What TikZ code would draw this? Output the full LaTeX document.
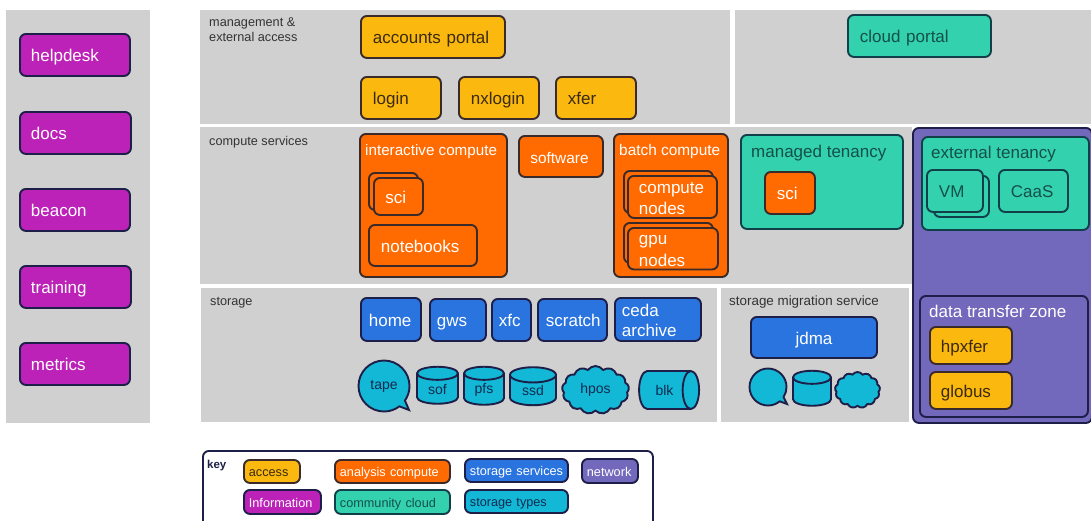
\documentclass[tikz,border=0pt]{standalone}
\usepackage{fontspec}
\setmainfont{Liberation Sans}
\usetikzlibrary{shapes.geometric,shapes.symbols,shapes.callouts}

\definecolor{panelgrey}{HTML}{D0D0D0}
\definecolor{infofill}{HTML}{BC22B8}
\definecolor{accessfill}{HTML}{FBB80F}
\definecolor{computefill}{HTML}{FF6B00}
\definecolor{servicefill}{HTML}{2A74E0}
\definecolor{typefill}{HTML}{12B8D6}
\definecolor{cloudfill}{HTML}{33D1AE}
\definecolor{netfill}{HTML}{7269BC}
\definecolor{edgenavy}{HTML}{1E1F48}
\definecolor{edgebrown}{HTML}{3A2A2A}
\definecolor{edgeteal}{HTML}{12404A}
\definecolor{inkbrown}{HTML}{3A2A10}
\definecolor{inkteal}{HTML}{14504A}
\definecolor{inknavy}{HTML}{102A50}
\definecolor{inkgrey}{HTML}{333333}

\def\tilepad{10}
\def\tilestrut{\leavevmode\vrule height .85\baselineskip depth .15\baselineskip width 0pt\relax}
\tikzset{
  pad/.code={\def\tilepad{#1}},
  tile/.style 2 args={rectangle, rounded corners=6pt, draw, line width=1.9pt, anchor=north west,
    minimum width=#1-1, minimum height=#2-1, text width=#1-2*\tilepad-2.9,
    inner xsep=\tilepad*1pt, inner ysep=0pt, align=left,
    font=\fontsize{17}{20}\selectfont,
    execute at begin node=\tilestrut, execute at end node=\tilestrut},
  panel/.style 2 args={rectangle, fill=panelgrey, anchor=north west, inner sep=0pt, outer sep=0pt,
    minimum width=#1, minimum height=#2},
  tag/.style={anchor=base west, inner sep=0pt, align=left, text=inkgrey, font=\fontsize{12.7}{15}\selectfont},
  head/.style={anchor=base west, inner sep=0pt, font=\fontsize{17}{20}\selectfont},
  keytext/.style={font=\fontsize{12.7}{15}\selectfont, pad=4},
  info/.style={fill=infofill, draw=edgenavy, text=white},
  access/.style={fill=accessfill, draw=edgebrown, text=inkbrown},
  compute/.style={fill=computefill, draw=edgebrown, text=white},
  service/.style={fill=servicefill, draw=edgenavy, text=white},
  storetype/.style={fill=typefill, draw=edgenavy, text=inknavy},
  community/.style={fill=cloudfill, draw=edgeteal, text=inkteal},
  network/.style={fill=netfill, draw=edgenavy, text=white},
  typebase/.style={storetype, line width=1.9pt, inner sep=0pt, font=\fontsize{14}{16}\selectfont},
  drum/.style 2 args={typebase, cylinder, shape border rotate=90, aspect=0.7, cylinder uses custom fill,
    cylinder body fill=typefill, cylinder end fill=typefill, minimum width=#1, minimum height=#2},
  puff/.style 2 args={typebase, cloud, cloud puffs=13, cloud puff arc=110, aspect=1.4, minimum width=#1, minimum height=#2},
  bubble/.style={typebase, ellipse callout, callout pointer arc=18, minimum size=#1}
}

\begin{document}
\begin{tikzpicture}[x=1pt, y=-1pt]
  \useasboundingbox (0,0) rectangle (1091,520);

  % Grey panels
  \node[panel={144}{413}] (sidepanel) at (6,10) {};
  \node[panel={530}{114}] (mgmtpanel) at (200,10) {};
  \node[panel={356}{114}] (portalpanel) at (735,10) {};
  \node[panel={712}{157}] (computepanel) at (200,127) {};
  \node[panel={516}{134}] (storagepanel) at (201,288) {};
  \node[panel={188}{134}] (migratepanel) at (721,288) {};

  % Panel titles
  \node[tag] (mgmttag) at (209,41) {management \&\\external access};
  \node[tag] (computetag) at (209,145.5) {compute services};
  \node[tag] (storagetag) at (210,305) {storage};
  \node[tag, font=\fontsize{13.4}{15}\selectfont] (migratetag) at (729,305) {storage migration service};

  % Information column
  \foreach \name/\ypos/\wide in {helpdesk/33/111, docs/111/112, beacon/188/111, training/265/112, metrics/342/111}
    \node[tile={\wide}{43}, info] (\name) at (19,\ypos) {\name};

  % Access row
  \node[tile={145}{43}, access, pad=11] (accounts) at (360,15) {accounts portal};
  \node[tile={81}{43}, access, pad=11] (login) at (360,76) {login};
  \node[tile={81}{43}, access, pad=11] (nxlogin) at (458,76) {nxlogin};
  \node[tile={81}{43}, access, pad=11] (xfer) at (555,76) {xfer};
  \node[tile={144}{43}, community, pad=11] (cloudportal) at (847,14) {cloud portal};

  % Compute services
  \node[tile={148}{144}, compute] (interactive) at (359,133) {};
  \node[head, text=white, font=\fontsize{15.2}{20}\selectfont] (interactivetag) at (365,155) {interactive compute};
  \node[tile={50}{38}, compute] (sciback) at (368,172) {};
  \node[tile={50}{38}, compute, pad=10.5] (scifront) at (373,177) {sci};
  \node[tile={109}{42}, compute, pad=11] (notebooks) at (368,224) {notebooks};
  \node[tile={85}{42}, compute, font=\fontsize{15.4}{20}\selectfont, pad=10.5] (software) at (518,135) {software};
  \node[tile={115}{144}, compute] (batch) at (613,133) {};
  \node[head, text=white, font=\fontsize{15.4}{20}\selectfont] (batchtag) at (619,155) {batch compute};
  \node[tile={90}{43}, compute] (nodesback) at (623,170) {};
  \node[tile={90}{43}, compute] (nodesfront) at (627,175) {compute\\nodes};
  \node[tile={90}{41}, compute] (gpuback) at (623,222) {};
  \node[tile={91}{42}, compute] (gpufront) at (627,227) {gpu\\nodes};

  % Community cloud
  \node[tile={163}{95}, community] (managed) at (740,134) {};
  \node[head, text=inkteal] (managedtag) at (751,157) {managed tenancy};
  \node[tile={51}{43}, compute, pad=11] (scimanaged) at (764,171) {sci};

  % Network side
  \node[tile={180}{296}, network] (network) at (912,127) {};
  \node[tile={168}{94}, community] (external) at (921,136) {};
  \node[head, text=inkteal] (externaltag) at (931,158) {external tenancy};
  \node[tile={56}{42}, community] (vmback) at (933,175) {};
  \node[tile={57}{43}, community, pad=11] (vmfront) at (926,169) {VM};
  \node[tile={70}{43}, community, pad=11] (caas) at (998,169) {CaaS};
  \node[tile={169}{122}, network] (transfer) at (919,295) {};
  \node[head, text=white] (transfertag) at (929,317) {data transfer zone};
  \node[tile={83}{38}, access] (hpxfer) at (929,326) {hpxfer};
  \node[tile={83}{38}, access] (globus) at (929,371) {globus};

  % Storage services
  \node[tile={61}{44}, service, pad=7] (home) at (360,297) {home};
  \node[tile={57}{43}, service, pad=6] (gws) at (429,298) {gws};
  \node[tile={40}{43}, service, pad=6] (xfc) at (491,298) {xfc};
  \node[tile={70}{43}, service, pad=7] (scratch) at (537,298) {scratch};
  \node[tile={87}{44}, service, pad=6] (ceda) at (614,297) {ceda\\archive};
  \node[tile={127}{42}, service, align=center] (jdma) at (750,316) {jdma};

  % Storage types
  \node[bubble=51, callout absolute pointer={(409,410)}] (tape) at (384,386) {tape};
  \node[drum={41}{37}] (sof) at (437.5,389) {sof};
  \node[drum={40}{38}] (pfs) at (484,389.5) {pfs};
  \node[drum={46}{38}] (ssd) at (533,390.5) {ssd};
  \node[puff={67}{48}] (hpos) at (595.5,390) {hpos};
  \node[typebase, cylinder, aspect=1.6, cylinder uses custom fill, cylinder body fill=typefill,
    cylinder end fill=typefill, minimum width=38, minimum height=60] (blk) at (664.5,390) {blk\hspace{23pt}};

  % Migration service types
  \node[bubble=37, callout absolute pointer={(787,404)}] (tapesmall) at (768,387) {};
  \node[drum={38}{35}] (drumsmall) at (812,392) {\phantom{sof}};
  \node[puff={45}{36}] (puffsmall) at (857.5,390) {};

  % Key
  \node[tile={451}{100}, fill=white, draw=edgenavy] (keybox) at (202,450) {};
  \node[tag, font=\bfseries\fontsize{11.5}{14}\selectfont, text=edgenavy] (keytag) at (207,468) {key};
  \node[tile={57}{24}, access, keytext] (keyaccess) at (243,459) {access};
  \node[tile={116}{24}, compute, keytext] (keycompute) at (334,459) {analysis compute};
  \node[tile={104}{24}, service, keytext] (keyservice) at (464,458) {\mbox{storage services}};
  \node[tile={57}{25}, network, keytext] (keynetwork) at (581,458) {network};
  \node[tile={78}{25}, info, keytext] (keyinfo) at (243,489) {Information};
  \node[tile={116}{25}, community, keytext] (keycloud) at (334,489) {community cloud};
  \node[tile={104}{24}, storetype, keytext] (keytype) at (464,489) {storage types};
\end{tikzpicture}
\end{document}
